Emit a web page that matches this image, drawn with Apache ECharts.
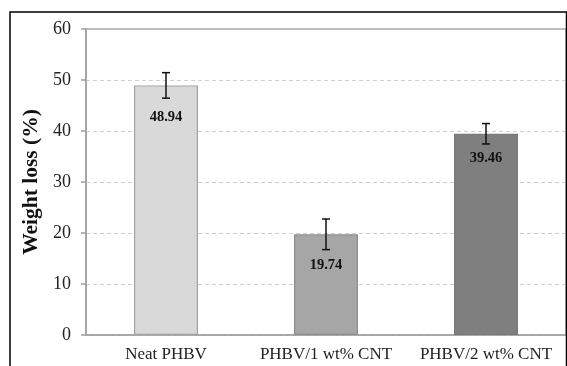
<!DOCTYPE html>
<html>
<head>
<meta charset="utf-8">
<script src="https://cdn.jsdelivr.net/npm/echarts@6/dist/echarts.min.js"></script>
<style>
  html, body { margin: 0; padding: 0; background: #fff; }
  #chart { width: 567px; height: 366px; }
</style>
</head>
<body>
<div id="chart"></div>
<script>
const categories = ["Neat PHBV", "PHBV/1 wt% CNT", "PHBV/2 wt% CNT"];
const weightLoss = [48.94, 19.74, 39.46];
const errors = [2.5, 3.0, 2.0];
const yTicks = { min: 0, max: 60, interval: 10 };

const barFills = ["#d9d9d9", "#a6a6a6", "#7f7f7f"];
const barBorders = ["#a3a3a3", "#8e8e8e", "#7a7a7a"];
const labelDist = [24, 23, 17];

const serif = "'Liberation Serif', 'DejaVu Serif', serif";

const chart = echarts.init(document.getElementById("chart"));

chart.setOption({
  animation: false,
  grid: {
    left: 86, right: 1, top: 29, bottom: 31,
    show: true, borderColor: "#a6a6a6", borderWidth: 1.5,
  },
  graphic: [{
    type: "rect",
    shape: { x: 10, y: 12, width: 556.5, height: 400 },
    style: { fill: "none", stroke: "#000", lineWidth: 1.5 },
    z: 100,
  }],
  xAxis: {
    type: "category",
    data: categories,
    axisLine: { lineStyle: { color: "#a0a0a0", width: 1.5 } },
    axisTick: { length: 5, lineStyle: { color: "#a0a0a0", width: 1.5 } },
    axisLabel: {
      interval: 0, hideOverlap: false,
      fontFamily: serif, fontSize: 17, color: "#222", margin: 11,
    },
  },
  yAxis: {
    type: "value",
    min: yTicks.min, max: yTicks.max, interval: yTicks.interval,
    name: "Weight loss (%)",
    nameLocation: "middle",
    nameGap: 39,
    nameTextStyle: { fontFamily: serif, fontSize: 21.5, fontWeight: "bold", color: "#111" },
    axisLine: { show: true, lineStyle: { color: "#a0a0a0", width: 1.5 } },
    axisTick: { show: true, length: 5, lineStyle: { color: "#a0a0a0", width: 1.5 } },
    axisLabel: { fontFamily: serif, fontSize: 18, color: "#222", margin: 15 },
    splitLine: { showMaxLine: false, lineStyle: { color: "#d0d0d0", type: [4, 3], width: 1 } },
  },
  series: [
    {
      type: "bar",
      barWidth: "40%",
      data: weightLoss.map((v, i) => ({
        value: v,
        itemStyle: { color: barFills[i], borderColor: barBorders[i], borderWidth: 1.2 },
        label: { distance: labelDist[i] },
      })),
      label: {
        show: true,
        position: "insideTop",
        fontFamily: serif,
        fontSize: 14.5,
        fontWeight: "bold",
        color: "#111",
        formatter: (p) => p.value.toFixed(2),
      },
    },
    {
      type: "custom",
      z: 10,
      data: weightLoss.map((v, i) => [i, v, errors[i]]),
      renderItem: (params, api) => {
        const i = api.value(0);
        const v = api.value(1);
        const e = api.value(2);
        const top = api.coord([i, v + e]);
        const bot = api.coord([i, v - e]);
        const hw = 4;
        const style = { stroke: "#111", lineWidth: 1.5 };
        return {
          type: "group",
          children: [
            { type: "line", shape: { x1: top[0], y1: top[1], x2: bot[0], y2: bot[1] }, style },
            { type: "line", shape: { x1: top[0] - hw, y1: top[1], x2: top[0] + hw, y2: top[1] }, style },
            { type: "line", shape: { x1: bot[0] - hw, y1: bot[1], x2: bot[0] + hw, y2: bot[1] }, style },
          ],
        };
      },
    },
  ],
});
</script>
</body>
</html>
